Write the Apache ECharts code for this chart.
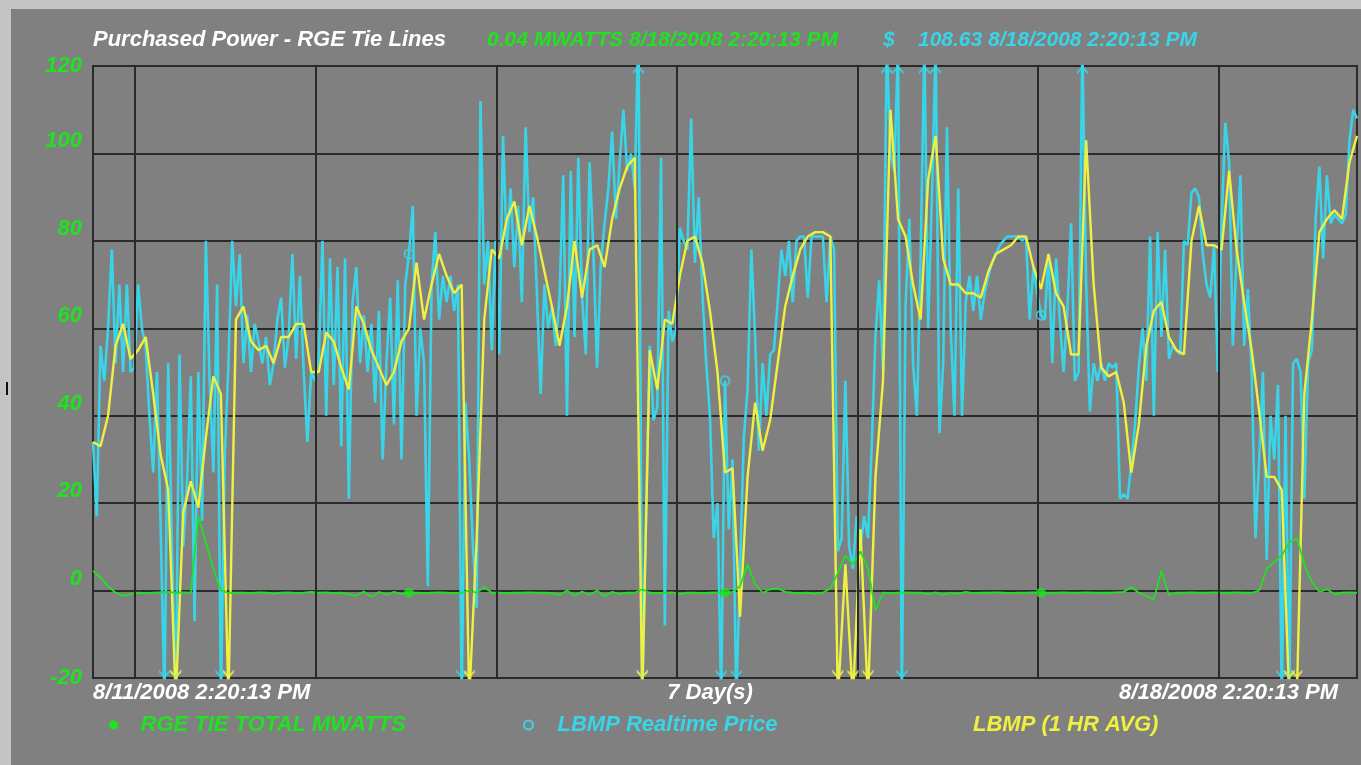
<!DOCTYPE html>
<html><head><meta charset="utf-8">
<script src="https://cdn.jsdelivr.net/npm/echarts@6/dist/echarts.min.js"></script>
<style>html,body{margin:0;padding:0;background:#808080;overflow:hidden}#c{width:1361px;height:765px}</style>
</head><body><div id="c"></div>
<script>
// ---- axis / tick data ----
const spanHours = 168;                 // 7 Day(s)
const yMin = -20, yMax = 120, yStep = 20;
const dayLines = [5.6, 29.6, 53.6, 77.6, 101.6, 125.6, 149.6]; // vertical grid (hours from start)
const startLabel = '8/11/2008 2:20:13 PM';
const endLabel = '8/18/2008 2:20:13 PM';
const spanLabel = '7 Day(s)';

// ---- series names ----
const nameMW = 'RGE TIE TOTAL MWATTS';
const nameRT = 'LBMP Realtime Price';
const nameAVG = 'LBMP (1 HR AVG)';

// LBMP Realtime Price, one value every 0.5 h
const rtStep = 0.5;
const lbmpRealtime = [
34,17,56,48,60,78,52,70,50,70,
50,51,70,60,56,40,27,50,14,-25,
52,10,-25,54,10,25,49,-7,50,16,
80,48,27,70,-25,30,52,80,65,77,
52,63,50,61,57,52,58,47,52,62,
67,51,58,77,53,72,50,34,50,48,
53,80,40,76,47,74,33,76,21,66,
74,52,63,50,61,43,64,30,52,67,
38,71,30,70,77,88,40,60,52,1,
70,82,62,72,66,72,64,70,-25,43,
30,10,-4,112,70,80,55,80,54,104,
78,92,74,88,66,106,82,90,68,45,
70,60,65,56,67,95,40,96,58,99,
67,54,98,78,51,75,84,92,105,85,
98,110,96,100,92,130,-25,17,56,39,
42,99,-8,64,57,60,83,80,78,108,
75,90,68,52,40,12,20,-25,48,14,
30,-25,5,35,46,78,58,32,52,40,
54,55,66,78,72,80,66,80,81,81,
67,81,81,81,81,66,81,78,9,12,
48,10,5,17,10,17,12,33,58,71,
50,125,100,96,125,-25,65,85,52,40,
76,125,60,90,125,36,52,106,60,40,
92,40,66,72,64,72,62,68,72,75,
77,79,80,81,81,81,81,80,81,62,
74,68,63,62,77,52,76,62,50,64,
84,48,50,125,70,41,52,48,52,48,
52,51,52,21,22,21,29,38,51,60,
48,81,40,82,58,78,53,56,55,54,
80,79,91,92,90,77,70,67,79,50,
84,107,98,56,77,95,56,69,50,12,
30,50,7,40,30,47,-25,40,-25,52,
53,50,21,52,55,85,97,76,95,84,
86,85,84,86,103,110,108
];

// LBMP (1 HR AVG), one value every hour
const avgStep = 1;
const lbmpHourAvg = [
34,33,40,56,61,53,55,58,45,31,
23,-25,18,25,19,35,49,45,-25,62,
65,57,55,56,52,58,58,61,61,50,
50,59,57,51,46,65,61,55,51,47,
50,57,60,75,62,70,77,72,68,70,
-25,12,62,78,76,85,89,79,88,81,
73,65,56,65,80,67,78,79,74,85,
92,97,99,-25,55,46,62,61,72,80,
81,75,64,50,27,28,-6,26,43,32,
39,52,65,72,78,81,82,82,81,-25,
6,-25,14,-25,26,48,110,85,81,70,
62,94,104,76,70,70,68,68,67,73,
77,78,79,81,81,74,69,77,68,65,
54,54,103,70,51,49,50,43,27,38,
56,64,66,58,55,54,80,88,79,79,
78,96,78,66,55,41,26,26,23,-25,
-25,45,62,82,85,87,85,98,104
];

// RGE TIE TOTAL MWATTS, one value every hour
const mwStep = 1;
const tieMW = [
4.5,3,1,-0.5,-1.2,-0.8,-0.5,-0.6,-0.5,-0.4,
-0.3,-0.5,-0.4,-0.5,17,11,5,0,-0.5,-0.5,
-0.5,-0.6,-0.4,-0.5,-0.7,-0.5,-0.4,-0.6,-0.5,-0.3,
-0.5,-0.4,-0.6,-0.5,-0.8,-1.2,-0.2,-1.5,-0.3,-1,
-0.3,-0.8,-0.5,-0.5,-0.6,-0.5,-0.4,-0.5,-0.6,-0.5,
0,-0.5,0.8,-0.5,-0.5,-0.6,-0.5,-0.5,-0.4,-0.5,
-0.5,-0.6,-1,0,-1.2,-0.2,-1,0,-1.3,-0.3,
-0.8,-0.5,-0.5,0.3,-0.5,-0.6,-0.5,-0.4,-0.8,-0.5,
-0.5,-0.6,-0.5,-0.4,-0.5,-0.3,1,6,1.5,-0.5,
0.3,0.5,-0.3,-0.5,-0.6,-0.5,-0.7,-0.5,0.5,4,
8,6,9,5,-4.5,-0.5,-0.6,-0.5,-0.4,-0.5,
-0.5,-0.8,-0.4,-1,-0.5,-0.7,-0.3,-0.6,-0.5,-0.5,
-0.4,-0.5,-0.6,-0.5,-0.5,-0.4,-0.5,-0.5,-0.5,-0.4,
-0.5,-0.5,-0.4,-0.5,-0.5,-0.5,-0.4,-0.3,0.8,-0.5,
-1.2,-2,4.5,-1,-0.5,-0.5,-0.4,-0.5,-0.5,-0.4,
-0.5,-0.5,-0.4,-0.5,-0.5,0,5,6.5,8,11,
12,6,2,-0.3,0.3,-0.8,-0.5,-0.4,-0.5
];

// marker positions (hours) shown on the MW and realtime curves
const markerHours = [42, 84, 126];

// header readouts
const headerTitle = 'Purchased Power - RGE Tie Lines';
const headerMW = '0.04 MWATTS 8/18/2008 2:20:13 PM';
const headerDollar = '$';
const headerPrice = '108.63 8/18/2008 2:20:13 PM';

// ---- colours ----
const C_GREEN = '#22e022';
const C_CYAN = '#38d4e8';
const C_YELLOW = '#f0f040';
const C_GRID = '#2a2a2a';
const FONT = 'Liberation Sans, Arial, sans-serif';
const FS = 22;

const toPairs = (arr, step) => arr.map((v, i) => [i * step, v]);
const rtPairs = toPairs(lbmpRealtime, rtStep);
const avgPairs = toPairs(lbmpHourAvg, avgStep);
const mwPairs = toPairs(tieMW, mwStep);

const below = pairs => pairs.filter(p => p[1] < yMin).map(p => [p[0], yMin]);
const above = pairs => pairs.filter(p => p[1] > yMax).map(p => [p[0], yMax]);
const ARROW_DOWN = 'path://M0,0 L6,6 L12,0 L12,3 L6,9 L0,3 Z';
const ARROW_UP = 'path://M0,9 L6,3 L12,9 L12,6 L6,0 L0,6 Z';
function arrows(data, color, up) {
  return {
    type: 'scatter', data, clip: false, silent: true, z: 5,
    symbol: up ? ARROW_UP : ARROW_DOWN, symbolSize: [11, 9],
    symbolOffset: [0, up ? 4 : -4],
    itemStyle: { color }, animation: false
  };
}

const txt = (x, y, text, color, align, size) => ({
  type: 'text', x, y, silent: true,
  style: { text, fill: color, font: 'italic bold ' + (size || FS) + 'px ' + FONT, textAlign: align || 'left', textVerticalAlign: 'middle' }
});
const legendText = color => ({ color, fontSize: FS, fontWeight: 'bold', fontStyle: 'italic', fontFamily: FONT });

const chart = echarts.init(document.getElementById('c'), null, { renderer: 'canvas' });
chart.setOption({
  animation: false,
  backgroundColor: '#808080',
  grid: { left: 93, top: 66, right: 4, bottom: 87, show: true, backgroundColor: '#808080', borderColor: C_GRID, borderWidth: 2 },
  xAxis: {
    type: 'value', min: 0, max: spanHours,
    axisLine: { show: false }, axisTick: { show: false }, axisLabel: { show: false }, splitLine: { show: false }
  },
  yAxis: {
    type: 'value', min: yMin, max: yMax, interval: yStep,
    axisLine: { show: false }, axisTick: { show: false },
    axisLabel: {
      color: C_GREEN, fontSize: FS, fontWeight: 'bold', fontStyle: 'italic', fontFamily: FONT,
      margin: 11, verticalAlign: 'bottom', padding: [0, 0, 1, 0],
      verticalAlignMinLabel: 'middle', verticalAlignMaxLabel: 'middle'
    },
    splitLine: { lineStyle: { color: C_GRID, width: 2 } }
  },
  legend: [
    { left: 104, top: 709, itemWidth: 44, itemHeight: 9, selectedMode: false, textStyle: legendText(C_GREEN),
      data: [{ name: nameMW, icon: 'circle', itemStyle: { color: C_GREEN } }] },
    { left: 518, top: 709, itemWidth: 48, itemHeight: 9, selectedMode: false, textStyle: legendText(C_CYAN),
      data: [{ name: nameRT, icon: 'circle', itemStyle: { color: 'rgba(0,0,0,0)', borderColor: C_CYAN, borderWidth: 2 } }] },
    { left: 953, top: 709, itemWidth: 10, itemHeight: 9, selectedMode: false, textStyle: legendText(C_YELLOW),
      data: [{ name: nameAVG, icon: 'none' }] }
  ],
  graphic: [
    { type: 'rect', silent: true, shape: { x: 0, y: 0, width: 1361, height: 9 }, style: { fill: '#c4c4c4' } },
    { type: 'rect', silent: true, shape: { x: 0, y: 0, width: 11, height: 765 }, style: { fill: '#c4c4c4' } },
    { type: 'rect', silent: true, shape: { x: 6, y: 382, width: 2, height: 13 }, style: { fill: '#111' } },
    txt(93, 40, headerTitle, '#ffffff'),
    txt(487, 40, headerMW, C_GREEN, 'left', 21),
    txt(883, 40, headerDollar, C_CYAN, 'left', 21),
    txt(918, 40, headerPrice, C_CYAN, 'left', 21),
    txt(93, 693, startLabel, '#ffffff'),
    txt(710, 693, spanLabel, '#ffffff', 'center'),
    txt(1338, 693, endLabel, '#ffffff', 'right')
  ],
  series: [
    { type: 'line', name: '_days', data: [], silent: true, z: 1,
      markLine: { silent: true, symbol: 'none', label: { show: false }, animation: false,
        lineStyle: { color: C_GRID, width: 2, type: 'solid' },
        data: dayLines.map(x => ({ xAxis: x })) } },
    { type: 'line', name: nameRT, data: rtPairs, showSymbol: false, z: 2,
      lineStyle: { color: C_CYAN, width: 2.6 }, itemStyle: { color: C_CYAN } },
    { type: 'line', name: nameAVG, data: avgPairs, showSymbol: false, z: 3,
      lineStyle: { color: C_YELLOW, width: 2.4 }, itemStyle: { color: C_YELLOW } },
    { type: 'line', name: nameMW, data: mwPairs, showSymbol: false, z: 4,
      lineStyle: { color: C_GREEN, width: 1.8 }, itemStyle: { color: C_GREEN } },
    { type: 'scatter', silent: true, z: 6, symbol: 'circle', symbolSize: 10,
      data: markerHours.map(h => [h, tieMW[Math.round(h / mwStep)]]), itemStyle: { color: C_GREEN } },
    { type: 'scatter', silent: true, z: 6, symbol: 'circle', symbolSize: 9,
      data: markerHours.map(h => [h, lbmpRealtime[Math.round(h / rtStep)]]),
      itemStyle: { color: 'rgba(0,0,0,0)', borderColor: C_CYAN, borderWidth: 2 } },
    arrows(below(rtPairs), C_CYAN, false),
    arrows(above(rtPairs), C_CYAN, true),
    arrows(below(avgPairs), C_YELLOW, false),
    arrows(above(avgPairs), C_YELLOW, true)
  ]
});
</script></body></html>
